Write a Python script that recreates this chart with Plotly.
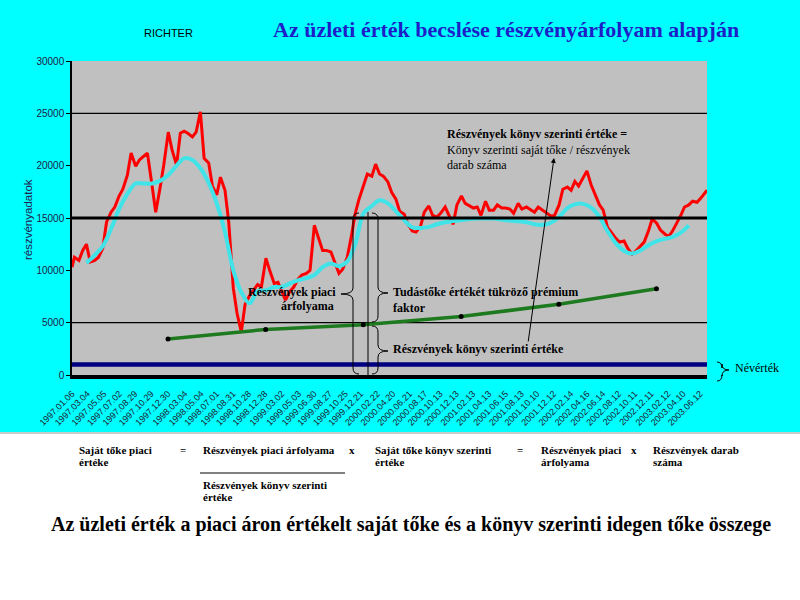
import plotly.graph_objects as go

# ---------------- data ----------------
price_dates = [
    "1997-01-06", "1997-01-15", "1997-02-01", "1997-02-15", "1997-03-01", "1997-03-15",
    "1997-04-01", "1997-04-15", "1997-05-01", "1997-05-15", "1997-06-01", "1997-06-15",
    "1997-07-01", "1997-07-15", "1997-08-01", "1997-08-15", "1997-09-01", "1997-09-15",
    "1997-10-01", "1997-10-15", "1997-11-01", "1997-11-15", "1997-12-01", "1997-12-15",
    "1998-01-01", "1998-01-15", "1998-02-01", "1998-02-15", "1998-03-01", "1998-03-15",
    "1998-04-01", "1998-04-15", "1998-05-01", "1998-05-15", "1998-06-01", "1998-06-15",
    "1998-07-01", "1998-07-15", "1998-08-01", "1998-08-15", "1998-09-01", "1998-09-15",
    "1998-10-01", "1998-10-15", "1998-11-01", "1998-11-15", "1998-12-01", "1998-12-15",
    "1999-01-01", "1999-01-15", "1999-02-01", "1999-02-15", "1999-03-01", "1999-03-15",
    "1999-04-01", "1999-04-15", "1999-05-01", "1999-05-15", "1999-06-01", "1999-06-15",
    "1999-07-01", "1999-07-15", "1999-08-01", "1999-08-15", "1999-09-01", "1999-09-15",
    "1999-10-01", "1999-10-15", "1999-11-01", "1999-11-15", "1999-12-01", "1999-12-15",
    "2000-01-01", "2000-01-15", "2000-02-01", "2000-02-15", "2000-03-01", "2000-03-15",
    "2000-04-01", "2000-04-15", "2000-05-01", "2000-05-15", "2000-06-01", "2000-06-15",
    "2000-07-01", "2000-07-15", "2000-08-01", "2000-08-15", "2000-09-01", "2000-09-15",
    "2000-10-01", "2000-10-15", "2000-11-01", "2000-11-15", "2000-12-01", "2000-12-15",
    "2001-01-01", "2001-01-15", "2001-02-01", "2001-02-15", "2001-03-01", "2001-03-15",
    "2001-04-01", "2001-04-15", "2001-05-01", "2001-05-15", "2001-06-01", "2001-06-15",
    "2001-07-01", "2001-07-15", "2001-08-01", "2001-08-15", "2001-09-01", "2001-09-15",
    "2001-10-01", "2001-10-15", "2001-11-01", "2001-11-15", "2001-12-01", "2001-12-15",
    "2002-01-01", "2002-01-15", "2002-02-01", "2002-02-15", "2002-03-01", "2002-03-15",
    "2002-04-01", "2002-04-15", "2002-05-01", "2002-05-15", "2002-06-01", "2002-06-15",
    "2002-07-01", "2002-07-15", "2002-08-01", "2002-08-15", "2002-09-01", "2002-09-15",
    "2002-10-01", "2002-10-15", "2002-11-01", "2002-11-15", "2002-12-01", "2002-12-15",
    "2003-01-01", "2003-01-15", "2003-02-01", "2003-02-15", "2003-03-01", "2003-03-15",
    "2003-04-01", "2003-04-15", "2003-05-01", "2003-05-15", "2003-06-01", "2003-06-15",
    "2003-07-01", "2003-07-08",
]
price_values = [
    10300, 11250, 10950, 11900, 12500, 10800, 10950, 11250, 12100, 14600, 15550, 16050,
    17100, 17750, 19100, 21200, 19950, 20550, 20900, 21200, 18150, 15550, 17850, 20050,
    23200, 21500, 20050, 23100, 23300, 23100, 22750, 23200, 25150, 20700, 20250, 18050,
    17200, 18900, 17650, 14600, 8300, 5900, 4100, 6750, 7600, 8100, 8650, 8400,
    11150, 10000, 8750, 8850, 7900, 7150, 8000, 8400, 9150, 9550, 9700, 10000,
    14300, 13150, 11900, 11900, 11750, 10800, 9700, 10100, 11250, 13050, 15450, 16800,
    18250, 19200, 19000, 20150, 19200, 19000, 18450, 17450, 16800, 15650, 15350, 14400,
    13750, 13650, 14200, 15550, 16150, 15250, 15100, 15450, 16050, 15350, 14400, 16250,
    17100, 16400, 16150, 15950, 16050, 15250, 16600, 15750, 15750, 16250, 15950, 15950,
    15850, 15450, 16400, 15850, 16050, 15850, 15550, 16050, 15750, 15450, 15200, 15250,
    16250, 17750, 17950, 17650, 18500, 18050, 18800, 19500, 18150, 17200, 16250, 15750,
    14100, 13650, 13050, 12700, 12800, 12100, 11550, 11850, 12300, 12700, 13750, 14900,
    14500, 13850, 13450, 13250, 13750, 14400, 15250, 16050, 16250, 16600, 16500, 16900,
    17400, 17650,
]

ma_dates = [
    "1997-03-01", "1997-04-01", "1997-05-01", "1997-06-01", "1997-07-01", "1997-08-01",
    "1997-09-01", "1997-10-01", "1997-11-01", "1997-12-01",
    "1998-01-01", "1998-02-01", "1998-03-01", "1998-04-01", "1998-05-01", "1998-06-01",
    "1998-07-01", "1998-08-01", "1998-09-01", "1998-10-01", "1998-11-01", "1998-12-01",
    "1999-01-01", "1999-02-01", "1999-03-01", "1999-04-01", "1999-05-01", "1999-06-01",
    "1999-07-01", "1999-08-01", "1999-09-01", "1999-10-01", "1999-11-01", "1999-12-01",
    "2000-01-01", "2000-02-01", "2000-03-01", "2000-04-01", "2000-05-01", "2000-06-01",
    "2000-07-01", "2000-08-01", "2000-09-01", "2000-10-01", "2000-11-01", "2000-12-01",
    "2001-01-01", "2001-02-01", "2001-03-01", "2001-04-01", "2001-05-01", "2001-06-01",
    "2001-07-01", "2001-08-01", "2001-09-01", "2001-10-01", "2001-11-01", "2001-12-01",
    "2002-01-01", "2002-02-01", "2002-03-01", "2002-04-01", "2002-05-01", "2002-06-01",
    "2002-07-01", "2002-08-01", "2002-09-01", "2002-10-01", "2002-11-01", "2002-12-01",
    "2003-01-01", "2003-02-01", "2003-03-01", "2003-04-01", "2003-05-01",
]
ma_values = [
    10700, 11450, 12300, 13950, 15850, 17300, 18300, 18300, 18300, 18550,
    19100, 20000, 20700, 20550, 19750, 18350, 16400, 13650, 10000, 7900, 6850, 8000,
    8100, 8400, 8400, 8750, 9050, 9250, 9550, 10300, 10650, 10400, 10850, 12500,
    15450, 16150, 16700, 16400, 15650, 14800, 14100, 14050, 14150, 14400, 14600, 14700,
    14800, 14900, 14950, 14950, 14950, 14850, 14750, 14700, 14600, 14400, 14350, 14550,
    15100, 15950, 16300, 16350, 16000, 15100, 13750, 12600, 11850, 11600, 11900, 12400,
    12800, 13000, 13200, 13600, 14300,
]

book_dates = ["1997-12-31", "1998-12-31", "1999-12-31", "2000-12-31", "2001-12-31", "2002-12-31"]
book_values = [3450, 4350, 4800, 5600, 6750, 8250]

nominal_value = 1000
reference_level = 15000
grid_levels = [5000, 25000]

tick_dates = [
    "1997-01-06", "1997-03-04", "1997-05-05", "1997-07-02", "1997-08-29", "1997-10-29",
    "1997-12-30", "1998-03-04", "1998-05-04", "1998-07-01", "1998-08-31", "1998-10-28",
    "1998-12-28", "1999-03-02", "1999-05-03", "1999-06-30", "1999-08-27", "1999-10-25",
    "1999-12-21", "2000-02-22", "2000-04-20", "2000-06-21", "2000-08-17", "2000-10-13",
    "2000-12-13", "2001-02-13", "2001-04-13", "2001-06-15", "2001-08-13", "2001-10-10",
    "2001-12-12", "2002-02-14", "2002-04-16", "2002-06-14", "2002-08-12", "2002-10-11",
    "2002-12-11", "2003-02-12", "2003-04-10", "2003-06-12",
]
tick_labels = [d.replace("-", ".") for d in tick_dates]
y_ticks = [0, 5000, 10000, 15000, 20000, 25000, 30000]

# ---------------- layout helpers ----------------
L, R, T, B = 72, 707, 61, 375   # plot area in pixels
W, H = 800, 600


def fx(px):
    return (px - L) / (R - L)


def fy(py):
    return (B - py) / (B - T)


def pt(px, py):
    return f"{fx(px):.5f},{fy(py):.5f}"


def brace(spine, tip, y0, ym, y1, curl):
    return (f"M {pt(spine + curl, y0)} Q {pt(spine, y0)} {pt(spine, y0 + 6)} "
            f"L {pt(spine, ym - 6)} Q {pt(spine, ym)} {pt(tip, ym)} "
            f"Q {pt(spine, ym)} {pt(spine, ym + 6)} "
            f"L {pt(spine, y1 - 6)} Q {pt(spine, y1)} {pt(spine + curl, y1)}")


SERIF = "Liberation Serif"
SANS = "Liberation Sans"

fig = go.Figure()

fig.add_trace(go.Scatter(x=price_dates, y=price_values, mode="lines",
                         line=dict(color="#FF0000", width=3), hoverinfo="skip"))
fig.add_trace(go.Scatter(x=ma_dates, y=ma_values, mode="lines",
                         line=dict(color="#3FE3E8", width=4, shape="spline"), hoverinfo="skip"))
fig.add_trace(go.Scatter(x=book_dates, y=book_values, mode="lines+markers",
                         line=dict(color="#1E7A1E", width=3.5),
                         marker=dict(color="black", size=5), hoverinfo="skip"))

shapes = []
# white lower band and separator
shapes.append(dict(type="rect", xref="paper", yref="paper", x0=fx(0), x1=fx(W), y0=fy(H), y1=fy(434),
                   fillcolor="white", line=dict(width=0), layer="below"))
shapes.append(dict(type="line", xref="paper", yref="paper", x0=fx(0), x1=fx(W), y0=fy(433), y1=fy(433),
                   line=dict(color="#C4CCCC", width=2)))
for g in grid_levels:
    shapes.append(dict(type="line", xref="paper", yref="y", x0=0, x1=1, y0=g, y1=g,
                       line=dict(color="black", width=1.2), layer="below"))
shapes.append(dict(type="line", xref="paper", yref="y", x0=0, x1=1, y0=reference_level, y1=reference_level,
                   line=dict(color="black", width=3)))
shapes.append(dict(type="line", xref="paper", yref="y", x0=0, x1=1, y0=nominal_value, y1=nominal_value,
                   line=dict(color="#000080", width=4.5)))
# braces and guide lines
bl = dict(color="black", width=1)
shapes.append(dict(type="path", xref="paper", yref="paper", path=brace(353, 341, 213, 294, 374, 6), line=bl))
shapes.append(dict(type="line", xref="paper", yref="paper", x0=fx(368), x1=fx(368), y0=fy(212), y1=fy(376), line=bl))
shapes.append(dict(type="path", xref="paper", yref="paper", path=brace(378, 388, 213, 293, 322, -6), line=bl))
shapes.append(dict(type="path", xref="paper", yref="paper", path=brace(378, 388, 326, 351, 374, -6), line=bl))
shapes.append(dict(type="path", xref="paper", yref="paper", path=brace(722, 729, 362, 370, 381, -5), line=bl))
# fraction bar
shapes.append(dict(type="line", xref="paper", yref="paper", x0=fx(200), x1=fx(345), y0=fy(473), y1=fy(473),
                   line=dict(color="black", width=1)))

ann = []


def text(px, py, s, size, family=SERIF, anchor="left", color="black", angle=0):
    ann.append(dict(x=fx(px), y=fy(py), xref="paper", yref="paper", text=s, showarrow=False,
                    xanchor=anchor, yanchor="middle", textangle=angle,
                    font=dict(family=family, size=size, color=color)))


text(168, 33, "RICHTER", 11, SANS, "center")
text(506, 30, "<b>Az üzleti érték becslése részvényárfolyam alapján</b>", 22, SERIF, "center", "#1E1EC8")
text(28, 220, "részvényadatok", 11.5, SANS, "center", "#202050", -90)

text(445, 134, "<b>Részvények könyv szerinti értéke =</b>", 12)
text(445, 150, "Könyv szerinti saját tőke / részvények", 12)
text(445, 165, "darab száma", 12)
text(338, 292, "<b>Részvények piaci</b>", 12, anchor="right")
text(336, 306, "<b>árfolyama</b>", 12, anchor="right")
text(391, 292, "<b>Tudástőke értékét tükröző prémium</b>", 12)
text(391, 308, "<b>faktor</b>", 12)
text(391, 349, "<b>Részvények könyv szerinti értéke</b>", 12)
text(733, 368, "Névérték", 12)

text(77, 450, "<b>Saját tőke piaci</b>", 11)
text(77, 462, "<b>értéke</b>", 11)
text(178, 450, "<b>=</b>", 11)
text(201, 450, "<b>Részvények piaci árfolyama</b>", 11)
text(347, 450, "<b>x</b>", 11)
text(373, 450, "<b>Saját tőke könyv szerinti</b>", 11)
text(373, 462, "<b>értéke</b>", 11)
text(515, 450, "<b>=</b>", 11)
text(539, 450, "<b>Részvények piaci</b>", 11)
text(539, 462, "<b>árfolyama</b>", 11)
text(629, 450, "<b>x</b>", 11)
text(651, 450, "<b>Részvények darab</b>", 11)
text(651, 462, "<b>száma</b>", 11)
text(201, 485, "<b>Részvények könyv szerinti</b>", 11)
text(201, 497, "<b>értéke</b>", 11)
text(411, 524, "<b>Az üzleti érték a piaci áron értékelt saját tőke és a könyv szerinti idegen tőke összege</b>", 20, anchor="center")

# arrow
ann.append(dict(x=fx(554), y=fy(158), xref="paper", yref="paper", text="", showarrow=True,
                ax=-26, ay=185, arrowhead=2, arrowsize=1, arrowwidth=1, arrowcolor="black"))

fig.update_layout(
    width=W, height=H,
    margin=dict(l=L, r=W - R, t=T, b=H - B, pad=0),
    paper_bgcolor="#00FFFF",
    plot_bgcolor="#C0C0C0",
    showlegend=False,
    shapes=shapes,
    annotations=ann,
    xaxis=dict(type="date", range=["1997-01-06", "2003-07-08"], tickvals=tick_dates, ticktext=tick_labels,
               tickangle=-45, tickfont=dict(family=SANS, size=9, color="#202030"),
               showgrid=False, zeroline=False, showline=True, linecolor="black", linewidth=4,
               ticks="", ticklabelstandoff=6),
    yaxis=dict(range=[0, 30000], tickvals=y_ticks, ticktext=[str(v) for v in y_ticks],
               tickfont=dict(family=SANS, size=10, color="#202045"),
               showgrid=False, zeroline=False, showline=True, linecolor="black", linewidth=1.5,
               ticks="outside", ticklen=4, tickcolor="black"),
)

fig.write_html("out.html", config={"displayModeBar": False},
               post_script="document.body.style.margin='0';")
